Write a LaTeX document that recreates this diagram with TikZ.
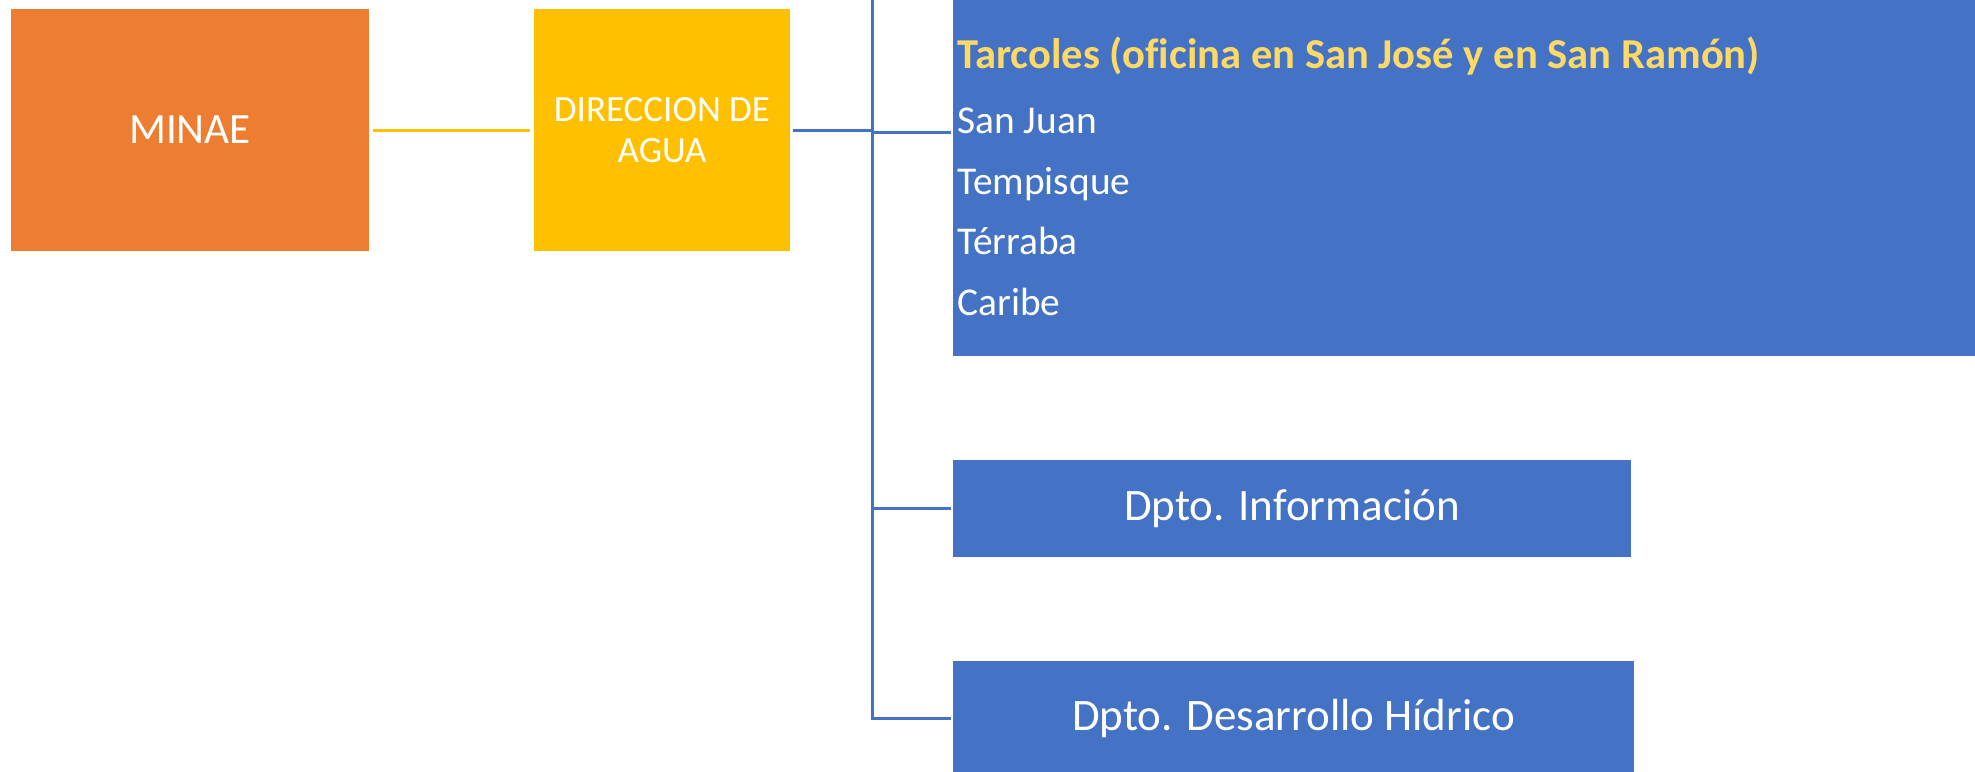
\documentclass[tikz,border=0pt]{standalone}
\usepackage{fontspec}
\setmainfont{Carlito}[Ligatures={TeX,NoCommon}]
\definecolor{orng}{HTML}{ED7D31}
\definecolor{yel}{HTML}{FFC000}
\definecolor{blu}{HTML}{4472C4}
\definecolor{tyel}{HTML}{FFD966}
\begin{document}
\begin{tikzpicture}[x=0.5pt,y=-0.5pt,
  box/.style={draw=none, inner sep=0pt, outer sep=0pt, anchor=north west, align=center, text=white},
  item/.style={anchor=base west, inner sep=0pt, text=white, font=\fontsize{19.7}{22}\selectfont},
  yline/.style={draw=yel, line width=1.5pt},
  bline/.style={draw=blu, line width=1.5pt}]
\clip (0,0) rectangle (1975,771);
\useasboundingbox (0,0) rectangle (1975,771);
% boxes
\node[box, fill=orng, minimum width=179pt, minimum height=121pt, font=\fontsize{21.6}{25}\selectfont] (minae) at (11,9) {MINAE};
\node[box, fill=yel, minimum width=128pt, minimum height=121pt, font=\fontsize{18.5}{20.5}\selectfont] (dir) at (534,9) {DIRECCION DE\\AGUA};
\node[box, fill=blu, minimum width=511pt, minimum height=188pt] (areas) at (953,-20) {};
\node[box, fill=blu, minimum width=339pt, minimum height=48.5pt, font=\fontsize{22.5}{26}\selectfont] (info) at (953,460) {Dpto. Información};
\node[box, fill=blu, minimum width=340.5pt, minimum height=57pt, font=\fontsize{22.5}{26}\selectfont] (desa) at (953,661) {Dpto. Desarrollo Hídrico};
% texts in big box
\node[anchor=base west, inner sep=0pt, text=tyel, font=\fontsize{21.3}{24}\selectfont\bfseries] (tarc) at (957,68) {Tarcoles (oficina en San José y en San Ramón)};
\node[item] (sj) at (957,133) {San Juan};
\node[item] (tem) at (957,194) {Tempisque};
\node[item] (ter) at (957,254) {Térraba};
\node[item] (car) at (957,315) {Caribe};
% connectors
\coordinate (top) at (872,0);
\coordinate (b1) at (951,132);
\draw[yline] ([xshift=2pt]minae.east) -- ([xshift=-2pt]dir.west);
\draw[bline] ([xshift=1.5pt]dir.east) -- (dir.east -| top);
\draw[bline] (top) -- (top |- desa.west) -- ([xshift=-1pt]desa.west);
\draw[bline] (top |- b1) -- (b1);
\draw[bline] (top |- info.west) -- ([xshift=-1pt]info.west);
\end{tikzpicture}
\end{document}
